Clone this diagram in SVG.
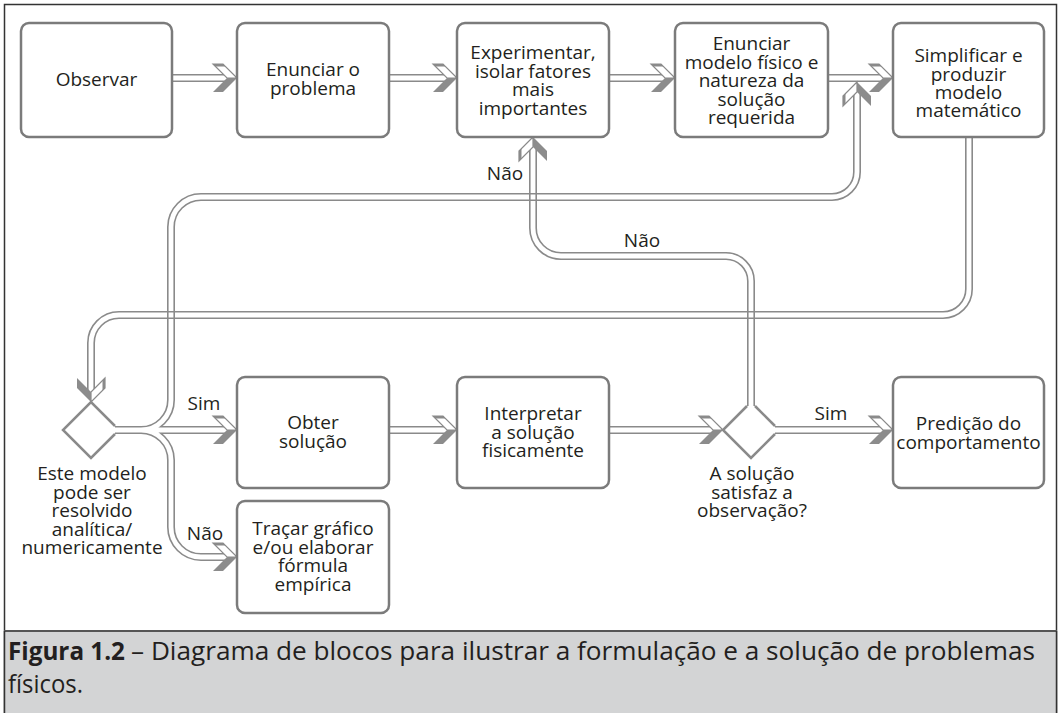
<svg xmlns="http://www.w3.org/2000/svg" xmlns:xlink="http://www.w3.org/1999/xlink" width="1060" height="713" viewBox="0 0 1060 713">
<style>
.box{fill:#fff;stroke:#7b7b7b;stroke-width:2.5}
.dia{fill:none;stroke:#8a8a8a;stroke-width:2.5;stroke-linejoin:miter}
.t{font-family:"Open Sans","Liberation Sans",sans-serif;font-size:19px;fill:#231f20;text-anchor:middle}
.tube{fill:none;stroke:#8a8a8a;stroke-width:8}
.cap{font-family:"Open Sans","Liberation Sans",sans-serif;font-size:25px;fill:#231f20}
</style>
<defs>
<g id="chev">
<polygon points="-24,-14 -14,-14 0,0 -10,0" fill="#fff" stroke="#8a8a8a" stroke-width="1.2"/>
<polygon points="-24,-14 -14,-14 -11.5,-11.5 -21.5,-11.5" fill="#8a8a8a"/>
<polygon points="-10,0 0,0 -14,14 -24,14" fill="#8c8c8c"/>
</g>
<path id="pN1" fill="none" d="M172,78 H226 M389,78 H446 M609,78 H664 M828,78 H882"/>
<path id="pN2" fill="none" d="M115,430 H226 M141,430 A30,30 0 0 0 171,400 V227 A30,30 0 0 1 201,197 H832 A25,25 0 0 0 857,172 V93 M141,430 A30,30 0 0 1 171,460 V527 A30,30 0 0 0 201,557 H226"/>
<path id="pN3" fill="none" d="M969,137 V289 A26,26 0 0 1 943,315 H119 A28,28 0 0 0 91,343 V391"/>
<path id="pN4" fill="none" d="M389,430 H446 M609,430 H712 M751,406 V281 A25,25 0 0 0 726,256 H561 A28,28 0 0 1 533,228 V148 M775,430 H882"/>
<mask id="mN1" maskUnits="userSpaceOnUse" x="0" y="0" width="1060" height="713"><rect width="1060" height="713" fill="#fff"/><use href="#pN1" stroke="#000" stroke-width="4.8"/></mask>
<mask id="mN2" maskUnits="userSpaceOnUse" x="0" y="0" width="1060" height="713"><rect width="1060" height="713" fill="#fff"/><use href="#pN2" stroke="#000" stroke-width="4.8"/></mask>
<mask id="mN3" maskUnits="userSpaceOnUse" x="0" y="0" width="1060" height="713"><rect width="1060" height="713" fill="#fff"/><use href="#pN3" stroke="#000" stroke-width="4.8"/></mask>
<mask id="mN4" maskUnits="userSpaceOnUse" x="0" y="0" width="1060" height="713"><rect width="1060" height="713" fill="#fff"/><use href="#pN4" stroke="#000" stroke-width="4.8"/></mask>
</defs>
<rect x="0" y="0" width="1060" height="713" fill="#fff"/>
<rect x="4.5" y="4.5" width="1052" height="730" fill="#fff" stroke="#333" stroke-width="1.5"/>
<rect x="5" y="631" width="1051" height="90" fill="#d3d4d5"/>
<line x1="4" y1="631" x2="1057" y2="631" stroke="#555" stroke-width="2"/>
<line x1="4.5" y1="631" x2="4.5" y2="713" stroke="#333" stroke-width="1.5"/>
<line x1="1056.5" y1="631" x2="1056.5" y2="713" stroke="#333" stroke-width="1.5"/>

<g id="connectors">
<use href="#pN1" class="tube" mask="url(#mN1)"/>
<use href="#pN2" class="tube" mask="url(#mN2)"/>
<use href="#pN3" class="tube" mask="url(#mN3)"/>
<use href="#pN4" class="tube" mask="url(#mN4)"/>
<use href="#chev" transform="translate(237,78)"/>
<use href="#chev" transform="translate(457,78)"/>
<use href="#chev" transform="translate(675,78)"/>
<use href="#chev" transform="translate(893,78)"/>
<use href="#chev" transform="translate(857,82) rotate(-90)"/>
<use href="#chev" transform="translate(533,137) rotate(-90)"/>
<use href="#chev" transform="translate(91,402) rotate(90)"/>
<use href="#chev" transform="translate(237,430)"/>
<use href="#chev" transform="translate(237,557)"/>
<use href="#chev" transform="translate(457,430)"/>
<use href="#chev" transform="translate(723,430)"/>
<use href="#chev" transform="translate(893,430)"/>
<text class="t" x="204" y="410">Sim</text>
<text class="t" x="205" y="540">Não</text>
<text class="t" x="505" y="180">Não</text>
<text class="t" x="642" y="247">Não</text>
<text class="t" x="831" y="420">Sim</text>
</g>

<g id="observar">
<rect class="box" x="21" y="23" width="151" height="114" rx="8"/>
<text class="t" x="96.5" y="86">Observar</text>
</g>
<g id="enunciar-problema">
<rect class="box" x="237" y="23" width="152" height="114" rx="8"/>
<text class="t" x="313" y="76">Enunciar o</text>
<text class="t" x="313" y="94.5">problema</text>
</g>
<g id="experimentar">
<rect class="box" x="457" y="23" width="152" height="114" rx="8"/>
<text class="t" x="533" y="59">Experimentar,</text>
<text class="t" x="533" y="77.5">isolar fatores</text>
<text class="t" x="533" y="96">mais</text>
<text class="t" x="533" y="114.5">importantes</text>
</g>
<g id="enunciar-modelo">
<rect class="box" x="675" y="23" width="153" height="114" rx="8"/>
<text class="t" x="751.5" y="50">Enunciar</text>
<text class="t" x="751.5" y="68.5">modelo físico e</text>
<text class="t" x="751.5" y="87">natureza da</text>
<text class="t" x="751.5" y="105.5">solução</text>
<text class="t" x="751.5" y="124">requerida</text>
</g>
<g id="simplificar">
<rect class="box" x="893" y="23" width="151" height="114" rx="8"/>
<text class="t" x="968.5" y="62">Simplificar e</text>
<text class="t" x="968.5" y="80.5">produzir</text>
<text class="t" x="968.5" y="99">modelo</text>
<text class="t" x="968.5" y="117">matemático</text>
</g>
<g id="decisao-modelo">
<polyline class="dia" points="115,426 91,402 63,430 91,458 115,434"/>
<text class="t" x="92" y="480">Este modelo</text>
<text class="t" x="92" y="498.5">pode ser</text>
<text class="t" x="92" y="517">resolvido</text>
<text class="t" x="92" y="535.5">analítica/</text>
<text class="t" x="92" y="554">numericamente</text>
</g>
<g id="obter">
<rect class="box" x="237" y="377" width="152" height="111" rx="8"/>
<text class="t" x="313" y="429">Obter</text>
<text class="t" x="313" y="447.5">solução</text>
</g>
<g id="tracar">
<rect class="box" x="237" y="501" width="152" height="112" rx="8"/>
<text class="t" x="313" y="535">Traçar gráfico</text>
<text class="t" x="313" y="553.5">e/ou elaborar</text>
<text class="t" x="313" y="572">fórmula</text>
<text class="t" x="313" y="590.5">empírica</text>
</g>
<g id="interpretar">
<rect class="box" x="457" y="377" width="152" height="111" rx="8"/>
<text class="t" x="533" y="420">Interpretar</text>
<text class="t" x="533" y="438.5">a solução</text>
<text class="t" x="533" y="457">fisicamente</text>
</g>
<g id="decisao-solucao">
<polyline class="dia" points="747,406 723,430 751,458 775,434"/>
<polyline class="dia" points="775,426 755,406"/>
<text class="t" x="752" y="480">A solução</text>
<text class="t" x="752" y="498.5">satisfaz a</text>
<text class="t" x="752" y="517">observação?</text>
</g>
<g id="predicao">
<rect class="box" x="893" y="377" width="151" height="111" rx="8"/>
<text class="t" x="968.5" y="430">Predição do</text>
<text class="t" x="968.5" y="448.5">comportamento</text>
</g>

<g id="caption">
<text class="cap" x="8" y="660" font-weight="bold" textLength="117" lengthAdjust="spacingAndGlyphs">Figura 1.2</text>
<text class="cap" x="131" y="660" textLength="904" lengthAdjust="spacingAndGlyphs">– Diagrama de blocos para ilustrar a formulação e a solução de problemas</text>
<text class="cap" x="8" y="693" textLength="75" lengthAdjust="spacingAndGlyphs">físicos.</text>
</g>
</svg>
